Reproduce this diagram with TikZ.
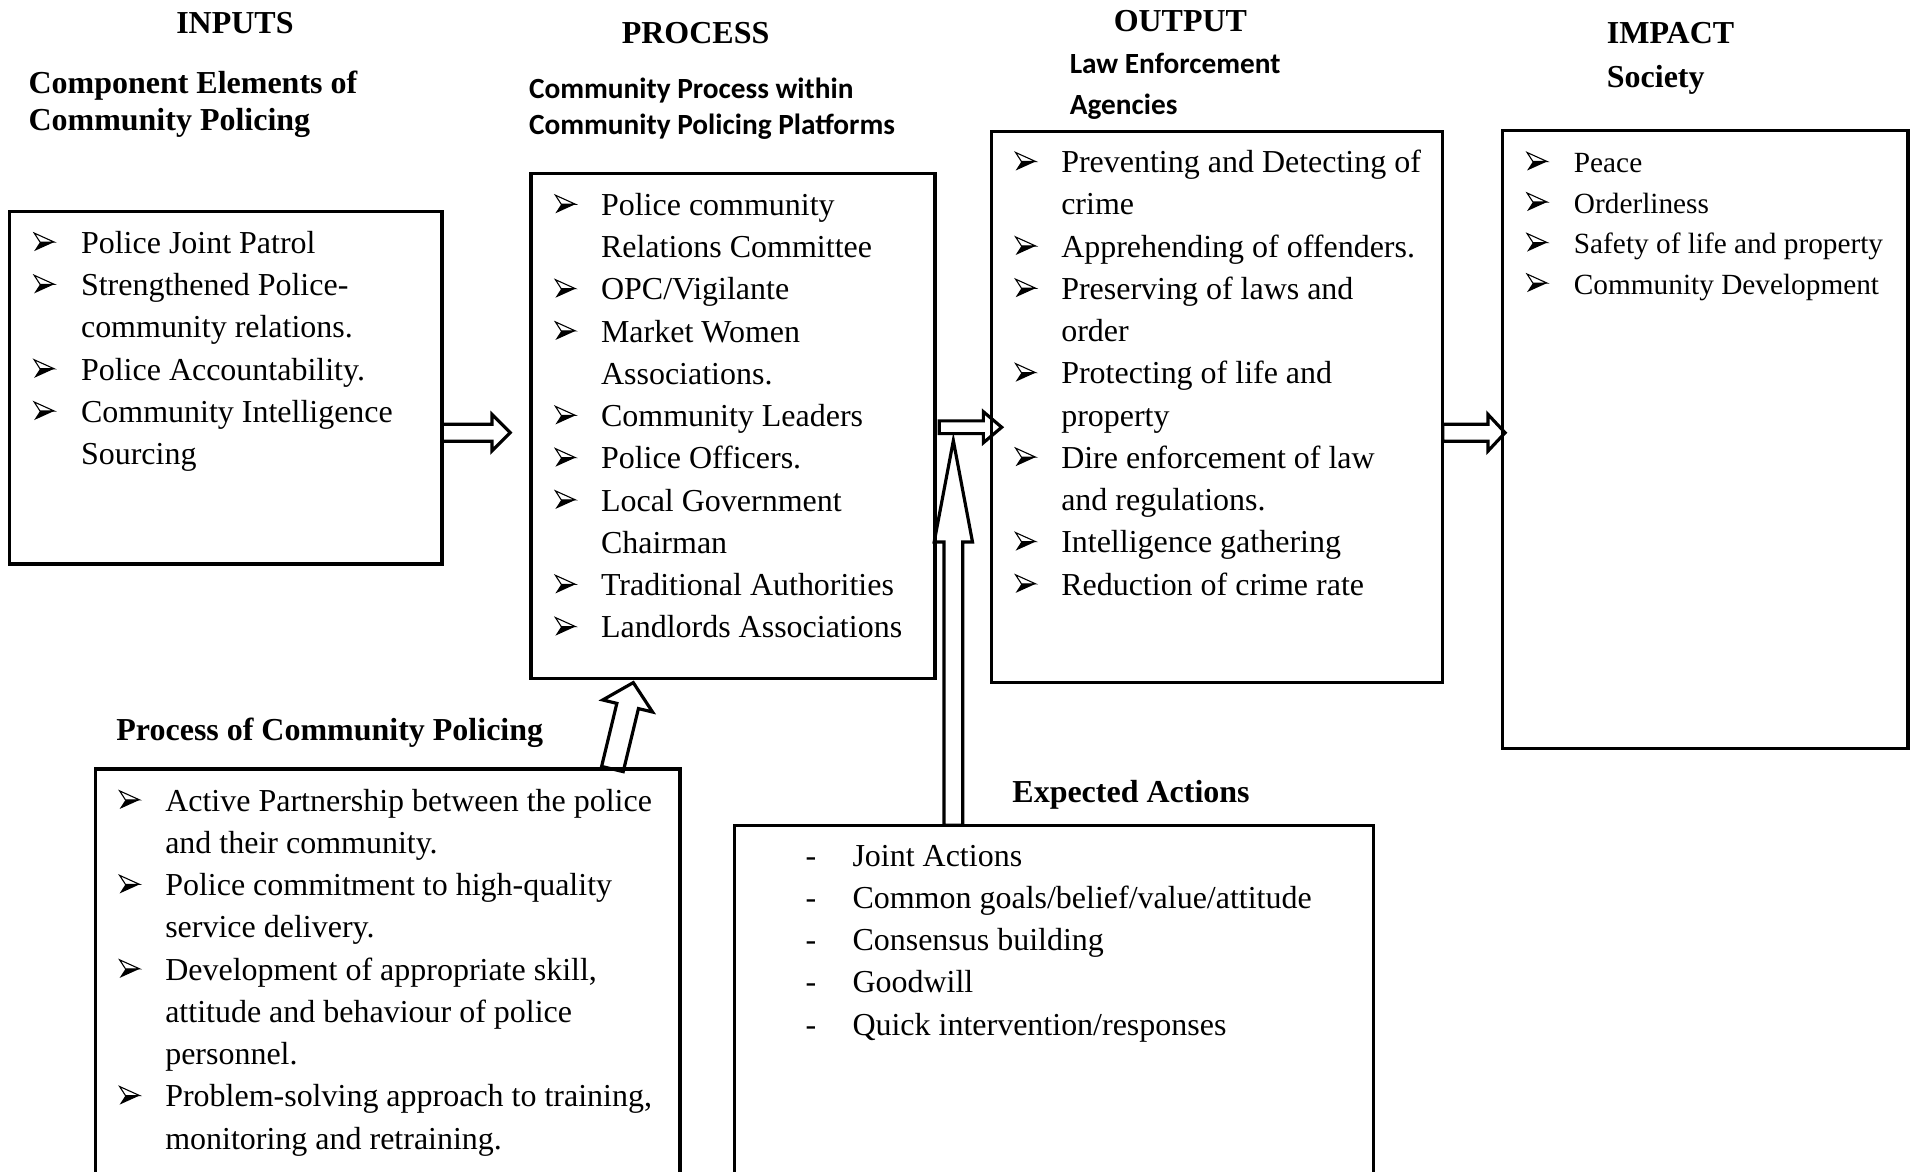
\documentclass[tikz,border=0pt]{standalone}
\usepackage{fontspec}
\setmainfont{Liberation Serif}
\newfontfamily\carl{Carlito}
\usetikzlibrary{calc,fit}
\newcommand\lines[1]{\begin{tabular}[t]{@{}l@{}}#1\end{tabular}}
\newcommand\blockarrow[5]{%
  \coordinate (ba-h) at ($(#2)!#5!(#1)$);
  \draw[barrow] ($(#1)!#3!90:(#2)$) -- ($(ba-h)!#3!90:(#2)$) -- ($(ba-h)!#4!90:(#2)$) -- (#2)
     -- ($(ba-h)!#4!-90:(#2)$) -- ($(ba-h)!#3!-90:(#2)$) -- ($(#1)!#3!-90:(#2)$) -- cycle;}
\begin{document}
\begin{tikzpicture}[x=0.5pt,y=-0.5pt,
  box/.style={draw, line width=1.35pt, inner sep=0pt, outer sep=0pt},
  body/.style={anchor=base west, inner sep=0pt, font=\fontsize{13.1}{17.3}\selectfont},
  small/.style={anchor=base west, inner sep=0pt, font=\fontsize{12}{16.6}\selectfont},
  hd/.style={anchor=base west, inner sep=0pt, font=\fontsize{13.1}{15}\selectfont\bfseries},
  sh/.style={anchor=base west, inner sep=0pt, font=\carl\bfseries\fontsize{12}{14.5}\selectfont},
  barrow/.style={draw, line width=1.3pt, line join=miter},
  bul/.pic={\draw[line width=0.45pt, line join=miter] (0pt,8.3pt) -- (8.2pt,4.6pt) -- (2.4pt,4.6pt) -- cycle;
            \fill (2.4pt,4.6pt) -- (8.2pt,4.6pt) -- (0pt,0.9pt) -- cycle;}
]
\useasboundingbox (0,0) rectangle (1568,960);

% headers
\node[hd] (tin) at (144,27.5) {INPUTS};
\node[hd] (tinsub) at (23,76.5) {\lines{Component Elements of\\Community Policing}};
\node[hd] (tpr) at (509,35.5) {PROCESS};
\node[sh] (tprsub) at (433,81) {\lines{Community Process within\\Community Policing Platforms}};
\node[hd] (tout) at (912,25.5) {OUTPUT};
\node[sh, font=\carl\bfseries\fontsize{12}{17}\selectfont] (toutsub) at (876,60) {\lines{Law Enforcement\\Agencies}};
\node[hd] (timp) at (1316,35.5) {IMPACT};
\node[hd] (timpsub) at (1316,71.5) {Society};
\node[hd] (tpcp) at (95,606.5) {Process of Community Policing};
\node[hd] (texp) at (829,657.5) {Expected Actions};

% boxes
\node[box, fit={(8,173) (362,462)}] (inp) {};
\node[box, fit={(435,142) (766,556)}] (proc) {};
\node[box, fit={(812,108) (1182,559)}] (out) {};
\node[box, fit={(1231,107) (1563,613)}] (imp) {};
\node[box, fit={(78,630) (557,963)}] (pcp) {};
\node[box, fit={(602,676) (1125,963)}] (exp) {};

% inputs text
\node[body] (inptxt) at (66,207.5) {\lines{Police Joint Patrol\\Strengthened Police-\\community relations.\\Police Accountability.\\Community Intelligence\\Sourcing}};
\foreach \i in {0,1,3,4} \pic at (28,{207.5+34.6*\i}) {bul};

% process text
\node[body] (proctxt) at (492,176.5) {\lines{Police community\\Relations Committee\\OPC/Vigilante\\Market Women\\Associations.\\Community Leaders\\Police Officers.\\Local Government\\Chairman\\Traditional Authorities\\Landlords Associations}};
\foreach \i in {0,2,3,5,6,7,9,10} \pic at (455,{176.5+34.6*\i}) {bul};

% output text
\node[body] (outtxt) at (869,141.5) {\lines{Preventing and Detecting of\\crime\\Apprehending of offenders.\\Preserving of laws and\\order\\Protecting of life and\\property\\Dire enforcement of law\\and regulations.\\Intelligence gathering\\Reduction of crime rate}};
\foreach \i in {0,2,3,5,7,9,10} \pic at (832,{141.5+34.6*\i}) {bul};

% impact text
\node[small] (imptxt) at (1289,141.5) {\lines{Peace\\Orderliness\\Safety of life and property\\Community Development}};
\foreach \i in {0,1,2,3} \pic at (1251,{141.5+33.2*\i}) {bul};

% process of community policing text
\node[body] (pcptxt) at (135,664.5) {\lines{Active Partnership between the police\\and their community.\\Police commitment to high-quality\\service delivery.\\Development of appropriate skill,\\attitude and behaviour of police\\personnel.\\Problem-solving approach to training,\\monitoring and retraining.}};
\foreach \i in {0,2,4,7} \pic at (98,{664.5+34.6*\i}) {bul};

% expected actions text
\node[body] (exptxt) at (659.5,709.5) {\lines{\makebox[19.25pt][l]{-}Joint Actions\\\makebox[19.25pt][l]{-}Common goals/belief/value/attitude\\\makebox[19.25pt][l]{-}Consensus building\\\makebox[19.25pt][l]{-}Goodwill\\\makebox[19.25pt][l]{-}Quick intervention/responses}};

% connector coordinates
\coordinate (a1s) at ($(inp.east)+(0,37)$);
\coordinate (a1e) at ($(proc.west |- a1s)+(-17,0)$);
\coordinate (a2s) at ($(proc.east)+(3.5,1)$);
\coordinate (a2e) at ($(out.west |- a2s)+(8.6,0)$);
\coordinate (a3s) at ($(exp.north west)+(179,0)$);
\coordinate (a3e) at ($(a3s |- a2s)+(0,11)$);
\coordinate (a4s) at ($(pcp.north west)+(423.7,0)$);
\coordinate (a4e) at ($(proc.south west)+(83.8,3.2)$);
\coordinate (a5s) at ($(out.east)+(0,21)$);
\coordinate (a5e) at ($(imp.west |- a5s)+(2,0)$);

% block arrows
\blockarrow{a1s}{a1e}{3.5pt}{7.5pt}{7.5pt}
\blockarrow{a2s}{a2e}{2.6pt}{6.35pt}{7.5pt}
\blockarrow{a3s}{a3e}{3.85pt}{7.85pt}{41.5pt}
\blockarrow{a4s}{a4e}{4.55pt}{10.5pt}{9.85pt}
\blockarrow{a5s}{a5e}{3.5pt}{7.5pt}{7pt}
\end{tikzpicture}
\end{document}
